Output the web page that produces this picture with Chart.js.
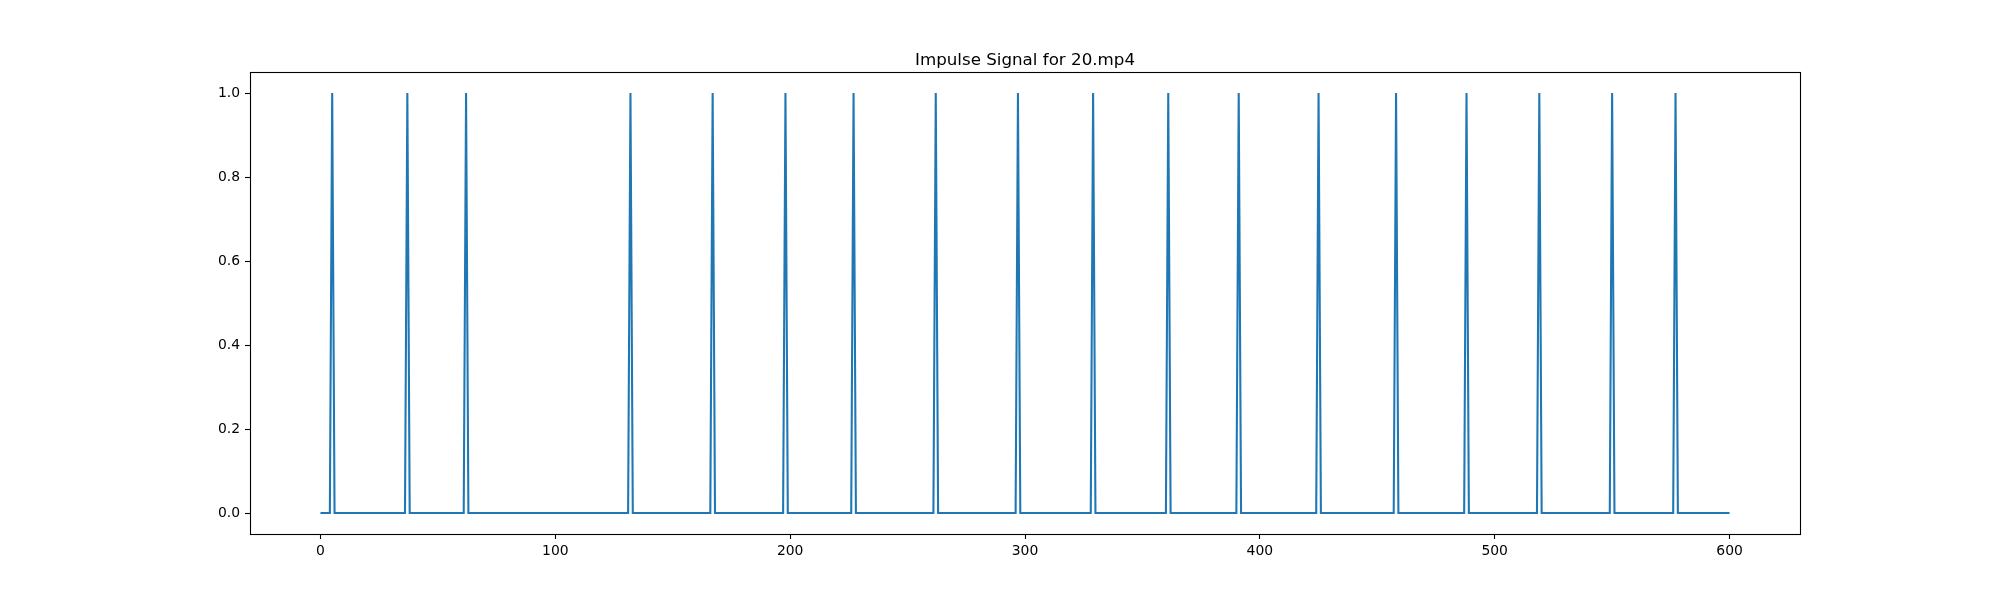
<!DOCTYPE html>
<html>
<head>
<meta charset="utf-8">
<title>Impulse Signal for 20.mp4</title>
<script src="https://cdn.jsdelivr.net/npm/chart.js@4"></script>
<style>
    html, body { margin: 0; padding: 0; background: #ffffff; }
    canvas { display: block; }
</style>
</head>
<body>
<canvas id="chart" width="2000" height="600"></canvas>
<script>
// frames where an impulse was detected
const spikeFrames = [5, 37, 62, 132, 167, 198, 227, 262, 297, 329, 361, 391, 425, 458, 488, 519, 550, 577]
const lastFrame = 600
const xTicks = [0, 100, 200, 300, 400, 500, 600]
const yTicks = [0, 0.2, 0.4, 0.6, 0.8, 1.0]
const title = 'Impulse Signal for 20.mp4'

let signal = []
for (let i = 0; i <= lastFrame; i++) {
    signal.push({x: i, y: spikeFrames.includes(i) ? 1 : 0})
}

const font = {family: 'DejaVu Sans', size: 13.9}

// matplotlib style box round the axes, title centred over the axes
const frame = {
    id: 'frame',
    afterDraw(chart) {
        const a = chart.chartArea
        const ctx = chart.ctx
        ctx.save()
        ctx.strokeStyle = '#000000'
        ctx.lineWidth = 1.1
        ctx.strokeRect(Math.round(a.left) + 0.5, Math.round(a.top) + 0.5,
            Math.round(a.right - a.left), Math.round(a.bottom - a.top))
        ctx.fillStyle = '#000000'
        ctx.font = '16.7px "DejaVu Sans"'
        ctx.textAlign = 'center'
        ctx.textBaseline = 'alphabetic'
        ctx.fillText(title, (a.left + a.right) / 2, a.top - 7)
        ctx.restore()
    }
}

const config = {
    type: 'line',
    data: {
        datasets: [{
            data: signal,
            borderColor: '#1f77b4',
            borderWidth: 2.08,
            pointRadius: 0,
            tension: 0,
            fill: false
        }]
    },
    options: {
        responsive: false,
        animation: false,
        layout: {padding: {left: 0, right: 200, top: 72, bottom: 0}},
        scales: {
            x: {
                type: 'linear',
                min: -30,
                max: 630,
                afterBuildTicks: scale => { scale.ticks = xTicks.map(v => ({value: v})) },
                afterFit: scale => { scale.height = 66 },
                border: {display: false},
                grid: {drawOnChartArea: false, drawTicks: true, tickLength: 5, tickColor: '#000000', tickWidth: 1.1},
                ticks: {color: '#000000', font: font, padding: 4, maxRotation: 0,
                    callback: v => String(v)}
            },
            y: {
                type: 'linear',
                min: -0.05,
                max: 1.05,
                afterBuildTicks: scale => { scale.ticks = yTicks.map(v => ({value: v})) },
                afterFit: scale => { scale.width = 250 },
                border: {display: false},
                grid: {drawOnChartArea: false, drawTicks: true, tickLength: 5, tickColor: '#000000', tickWidth: 1.1},
                ticks: {color: '#000000', font: font, padding: 5,
                    callback: v => Number(v).toFixed(1)}
            }
        },
        plugins: {
            legend: {display: false},
            tooltip: {enabled: false},
            title: {display: false}
        }
    },
    plugins: [frame]
}

new Chart(document.getElementById('chart'), config)
</script>
</body>
</html>
